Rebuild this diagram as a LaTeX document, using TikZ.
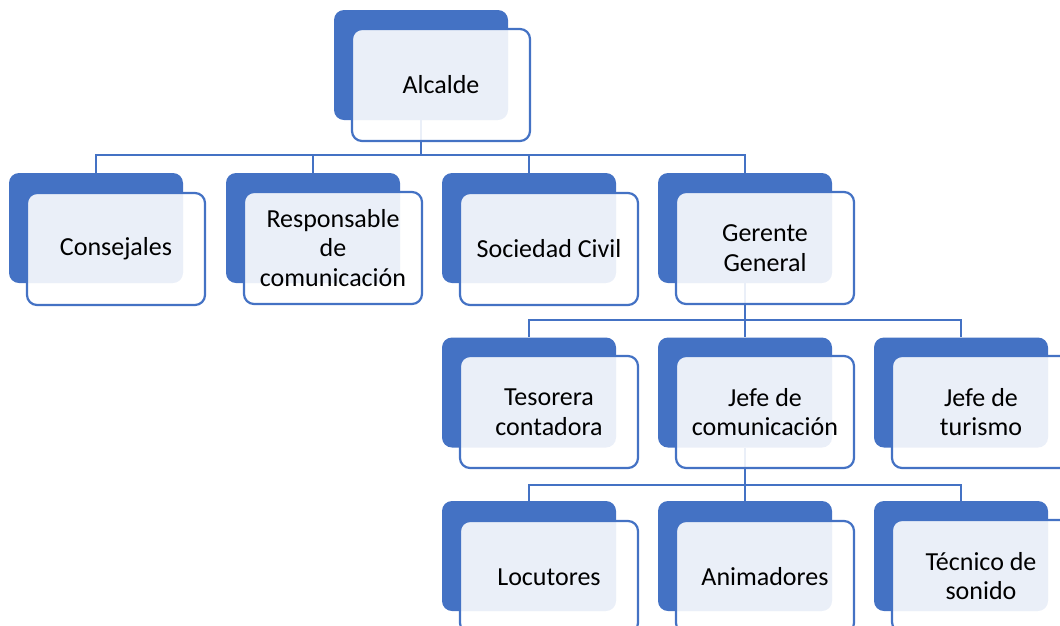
\documentclass[tikz,border=0pt]{standalone}
\usepackage{fontspec}
\setmainfont{Carlito}
\definecolor{oblue}{HTML}{4472C4}
\begin{document}
\begin{tikzpicture}[x=1pt,y=-1pt,
  back/.style={draw=none,fill=oblue,rounded corners=10pt,minimum width=174pt,minimum height=110pt,inner sep=0pt},
  front/.style={draw=oblue,line width=2.2pt,fill=white,fill opacity=0.89,text opacity=1,rounded corners=10pt,minimum width=178pt,minimum height=112pt,inner sep=0pt,align=center,font=\fontsize{26}{29.5}\selectfont},
  conn/.style={draw=oblue,line width=2.4pt}]
\useasboundingbox (0,0) rectangle (1060,625);
% back boxes
\node[back] (alcB) at (421,65) {};
\node[back] (conB) at (96,228) {};
\node[back] (resB) at (313,228) {};
\node[back] (socB) at (529,228) {};
\node[back] (gerB) at (745,228) {};
\node[back] (tesB) at (529,392.5) {};
\node[back] (jcoB) at (745,392.5) {};
\node[back] (jtuB) at (961,392.5) {};
\node[back] (locB) at (529,556) {};
\node[back] (aniB) at (745,556) {};
\node[back] (tecB) at (961,556) {};
% connectors
\draw[conn] (alcB.south) -- ++(0,35) -| (conB.north);
\draw[conn] (alcB.south) ++(0,35) -| (resB.north);
\draw[conn] (alcB.south) ++(0,35) -| (socB.north);
\draw[conn] (alcB.south) ++(0,35) -| (gerB.north);
\draw[conn] (gerB.south) -- ++(0,37) -| (tesB.north);
\draw[conn] (gerB.south) ++(0,37) -| (jcoB.north);
\draw[conn] (gerB.south) ++(0,37) -| (jtuB.north);
\draw[conn] (jcoB.south) -- ++(0,37) -| (locB.north);
\draw[conn] (jcoB.south) ++(0,37) -| (aniB.north);
\draw[conn] (jcoB.south) ++(0,37) -| (tecB.north);
% front boxes
\node[front] (alc) at (441,85) {Alcalde};
\node[front] (con) at (116,249) {Consejales};
\node[front] (res) at (333,248) {Responsable\\de\\comunicación};
\node[front] (soc) at (549,249) {Sociedad Civil};
\node[front] (ger) at (765,248) {Gerente\\General};
\node[front] (tes) at (549,412) {Tesorera\\contadora};
\node[front] (jco) at (765,412) {Jefe de\\comunicación};
\node[front] (jtu) at (981,412) {Jefe de\\turismo};
\node[front] (loc) at (549,577) {Locutores};
\node[front] (ani) at (765,577) {Animadores};
\node[front] (tec) at (981,576) {Técnico de\\sonido};
\end{tikzpicture}
\end{document}
